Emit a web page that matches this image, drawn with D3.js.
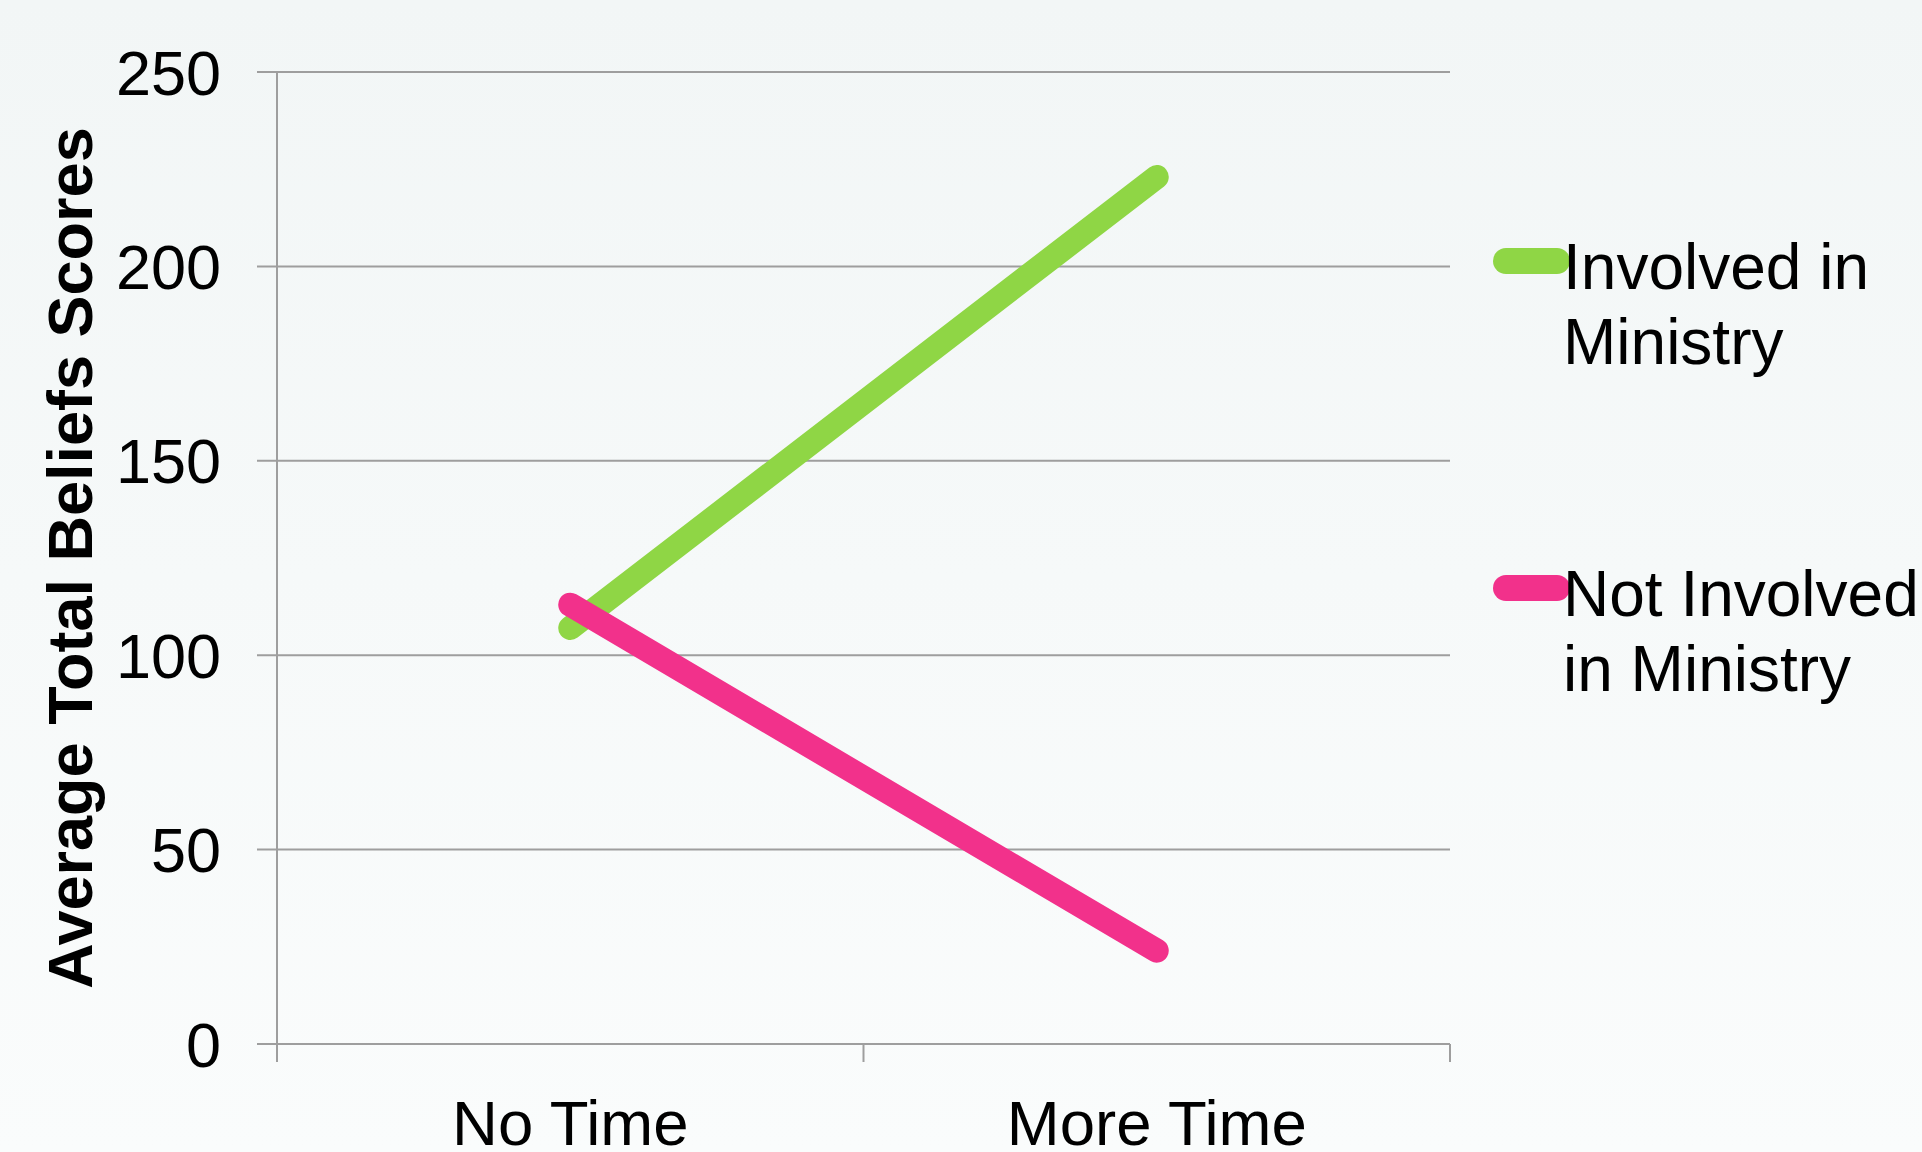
<!DOCTYPE html>
<html>
<head>
<meta charset="utf-8">
<script src="https://cdn.jsdelivr.net/npm/d3@7"></script>
<style>
  html, body { margin: 0; padding: 0; }
  body { width: 1922px; height: 1152px; overflow: hidden; }
  svg { display: block; font-family: "Liberation Sans", Arial, sans-serif; }
</style>
</head>
<body>
<svg id="chart" width="1922" height="1152"></svg>
<script>
var categories = ["No Time", "More Time"];
var seriesNames = ["Involved in Ministry", "Not Involved in Ministry"];
var involved = [107, 223];
var notInvolved = [113, 24];
var yTicks = [0, 50, 100, 150, 200, 250];
var legendLines = [["Involved in", "Ministry"], ["Not Involved", "in Ministry"]];
var colors = ["#8fd645", "#f2318b"];

var svg = d3.select("#chart"),
  margin = { top: 72, left: 277, right: 472, bottom: 108 },
  width = svg.attr("width") - margin.left - margin.right,
  height = svg.attr("height") - margin.top - margin.bottom;

// background
var defs = svg.append("defs");
var grad = defs.append("linearGradient")
  .attr("id", "bg").attr("x1", 0).attr("y1", 0).attr("x2", 0).attr("y2", 1);
grad.append("stop").attr("offset", "0%").attr("stop-color", "#f2f6f6");
grad.append("stop").attr("offset", "100%").attr("stop-color", "#fafcfc");
svg.append("rect").attr("width", 1922).attr("height", 1152).attr("fill", "url(#bg)");

var g = svg.append("g").attr("transform", "translate(" + margin.left + "," + margin.top + ")");

var x = d3.scaleBand().domain(categories).range([0, width]).padding(0);
var y = d3.scaleLinear().domain([0, 250]).range([height, 0]);

// gridlines + left ticks
g.append("g")
  .selectAll("line")
  .data(yTicks)
  .enter()
  .append("line")
  .attr("x1", -20)
  .attr("x2", width)
  .attr("y1", function(d) { return y(d); })
  .attr("y2", function(d) { return y(d); })
  .attr("stroke", "#9e9e9e")
  .attr("stroke-width", 2);

// y labels
g.append("g")
  .selectAll("text")
  .data(yTicks)
  .enter()
  .append("text")
  .attr("x", -56)
  .attr("y", function(d) { return y(d); })
  .attr("dy", "0.36em")
  .attr("text-anchor", "end")
  .attr("font-size", 63)
  .attr("fill", "#000")
  .text(function(d) { return d; });

// y axis line
g.append("line")
  .attr("x1", 0).attr("x2", 0)
  .attr("y1", y(250)).attr("y2", height + 18)
  .attr("stroke", "#9e9e9e").attr("stroke-width", 2);

// x boundary ticks
var boundaries = categories.map(function(c) { return x(c); }).concat([width]);
g.append("g")
  .selectAll("line")
  .data(boundaries)
  .enter()
  .append("line")
  .attr("x1", function(d) { return d; })
  .attr("x2", function(d) { return d; })
  .attr("y1", height)
  .attr("y2", height + 18)
  .attr("stroke", "#9e9e9e")
  .attr("stroke-width", 2);

// x labels
g.append("g")
  .selectAll("text")
  .data(categories)
  .enter()
  .append("text")
  .attr("x", function(d) { return x(d) + x.bandwidth() / 2; })
  .attr("y", height + 101)
  .attr("text-anchor", "middle")
  .attr("font-size", 63.5)
  .attr("fill", "#000")
  .text(function(d) { return d; });

// y axis title
svg.append("text")
  .attr("transform", "translate(92," + 558 + ") rotate(-90)")
  .attr("text-anchor", "middle")
  .attr("font-size", 63)
  .attr("font-weight", "bold")
  .attr("fill", "#000")
  .text("Average Total Beliefs Scores");

// lines
var line = d3.line()
  .x(function(d, i) { return x(categories[i]) + x.bandwidth() / 2; })
  .y(function(d) { return y(d); })
  .curve(d3.curveLinear);

[involved, notInvolved].forEach(function(vals, i) {
  g.append("path")
    .datum(vals)
    .attr("d", line)
    .attr("fill", "none")
    .attr("stroke", colors[i])
    .attr("stroke-width", 24)
    .attr("stroke-linecap", "round")
    .attr("stroke-linejoin", "round");
});

// legend
var legendY = [261, 588];
var legend = svg.append("g");
seriesNames.forEach(function(name, i) {
  var lg = legend.append("g").attr("transform", "translate(0," + legendY[i] + ")");
  lg.append("line")
    .attr("x1", 1506).attr("x2", 1557)
    .attr("y1", 0).attr("y2", 0)
    .attr("stroke", colors[i])
    .attr("stroke-width", 26)
    .attr("stroke-linecap", "round");
  lg.selectAll("text")
    .data(legendLines[i])
    .enter()
    .append("text")
    .attr("x", 1563)
    .attr("y", function(d, j) { return 28 + j * 75; })
    .attr("font-size", 64)
    .attr("fill", "#000")
    .text(function(d) { return d; });
});
</script>
</body>
</html>
